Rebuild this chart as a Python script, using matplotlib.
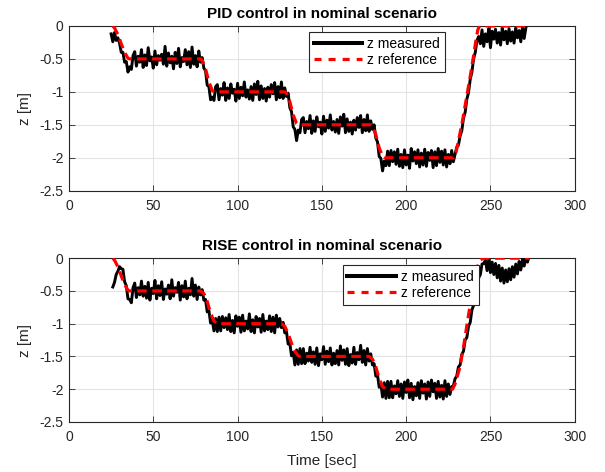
import numpy as np
import matplotlib
matplotlib.use("Agg")
import matplotlib.pyplot as plt
from matplotlib.lines import Line2D

plt.rcParams['font.family'] = ['Liberation Sans', 'DejaVu Sans']

# ---------------- data: PID ----------------
pid_t0 = 25  # first sample time [s], 1 s sampling
pid_meas = [
    -0.12, -0.24, -0.10, -0.22, -0.18,
    -0.26, -0.40, -0.40, -0.55, -0.54, -0.70, -0.62, -0.66, -0.45,
    -0.39, -0.61, -0.46, -0.55, -0.36, -0.63, -0.44, -0.60, -0.33, -0.53,
    -0.47, -0.64, -0.38, -0.59, -0.45, -0.52, -0.43, -0.58, -0.31, -0.61,
    -0.41, -0.56, -0.46, -0.65, -0.40, -0.57, -0.34, -0.62, -0.48, -0.54,
    -0.36, -0.59, -0.39, -0.63, -0.32, -0.58, -0.45, -0.62, -0.38, -0.55,
    -0.48, -0.64, -0.68, -0.90, -0.92, -1.12, -1.08, -1.13, -0.92,
    -0.89, -1.12, -0.95, -1.05, -0.86, -1.13, -0.94, -1.10, -0.88, -1.02,
    -0.96, -1.14, -0.87, -1.10, -0.93, -1.06, -0.85, -1.08, -0.97, -1.11,
    -0.92, -1.13, -0.88, -1.04, -0.84, -1.12, -0.91, -1.10, -0.95, -1.14,
    -0.93, -1.08, -0.89, -1.03, -0.86, -1.12, -0.92, -1.09, -0.85, -1.10,
    -0.94, -1.07,
    -1.02, -1.24, -1.30, -1.53, -1.57, -1.74, -1.58, -1.62, -1.42,
    -1.39, -1.62, -1.45, -1.56, -1.36, -1.63, -1.44, -1.60, -1.38, -1.53,
    -1.46, -1.64, -1.37, -1.60, -1.43, -1.55, -1.35, -1.58, -1.45, -1.61,
    -1.42, -1.63, -1.38, -1.52, -1.34, -1.62, -1.41, -1.60, -1.46, -1.64,
    -1.43, -1.58, -1.39, -1.54, -1.36, -1.62, -1.42, -1.59, -1.35, -1.60,
    -1.44, -1.57,
    -1.50, -1.70, -1.76, -1.98, -2.01, -2.20, -2.05, -2.12, -1.90,
    -2.12, -1.89, -2.06, -1.91, -2.10, -1.87, -2.13, -1.95, -2.15, -1.88,
    -2.11, -1.96, -2.16, -1.86, -2.05, -1.91, -2.09, -1.88, -2.14, -1.93,
    -2.11, -1.87, -2.13, -1.92, -2.04, -1.89, -2.15, -1.91, -2.12, -1.86,
    -2.07, -1.90, -2.11, -1.88, -2.14, -1.95, -2.09, -1.89, -2.06,
    -1.95, -1.84, -1.81, -1.67, -1.59, -1.40, -1.31, -1.11, -1.01, -0.81,
    -0.70, -0.50, -0.40, -0.22, -0.16,
    -0.27, -0.06, -0.31, -0.12, -0.24, -0.04, -0.33, -0.08, -0.20, -0.05,
    -0.26, -0.10, -0.29, -0.03, -0.21, -0.08, -0.27, -0.04, -0.23, -0.09,
    -0.26, -0.03, -0.18, -0.07, -0.24, -0.02, -0.19, -0.03,
]
pid_ref_t = [26, 27, 29, 31, 33, 35, 36, 78, 79, 81, 83, 85, 86,
             128, 129, 131, 133, 135, 136, 179, 180, 182, 184, 186, 187,
             228, 229.5, 231, 233.4, 236, 238.3, 240, 241.5, 242.5, 243.5, 271]
pid_ref_z = [0.0, -0.03, -0.13, -0.27, -0.40, -0.49, -0.5, -0.5, -0.52, -0.65, -0.85, -0.98, -1.0,
             -1.0, -1.02, -1.15, -1.35, -1.48, -1.5, -1.5, -1.52, -1.65, -1.85, -1.98, -2.0,
             -2.0, -1.92, -1.75, -1.44, -1.06, -0.72, -0.45, -0.20, -0.06, 0.0, 0.0]

# ---------------- data: RISE ----------------
rise_t0 = 26
rise_meas = [
    -0.44, -0.37, -0.25, -0.20, -0.13, -0.16, -0.17, -0.36, -0.42, -0.62, -0.63, -0.68, -0.45,
    -0.38, -0.60, -0.45, -0.56, -0.35, -0.58, -0.43, -0.61, -0.37, -0.64,
    -0.46, -0.54, -0.34, -0.62, -0.42, -0.57, -0.36, -0.63, -0.47, -0.55,
    -0.41, -0.62, -0.33, -0.58, -0.45, -0.52, -0.37, -0.64, -0.42, -0.59,
    -0.35, -0.62, -0.46, -0.56, -0.31, -0.58, -0.41, -0.63, -0.44, -0.56,
    -0.48, -0.64, -0.63, -0.82, -0.80, -0.99, -0.95, -1.11, -0.92, -1.12, -0.90,
    -1.11, -0.89, -1.06, -0.91, -1.09, -0.86, -1.12, -0.95, -1.14, -0.88,
    -1.04, -0.90, -1.13, -0.87, -1.11, -0.96, -1.08, -0.85, -1.12, -0.94,
    -1.14, -0.89, -1.05, -0.92, -1.13, -0.86, -1.11, -0.96, -1.09, -0.88,
    -1.12, -0.90, -1.14, -0.87, -1.05, -0.92, -1.06,
    -0.98, -1.14, -1.12, -1.31, -1.30, -1.49, -1.44, -1.63, -1.40, -1.62, -1.38, -1.61,
    -1.38, -1.61, -1.45, -1.57, -1.36, -1.59, -1.43, -1.62, -1.37, -1.64,
    -1.46, -1.55, -1.35, -1.62, -1.42, -1.58, -1.37, -1.63, -1.45, -1.61,
    -1.41, -1.63, -1.34, -1.56, -1.40, -1.62, -1.38, -1.64, -1.47, -1.60,
    -1.36, -1.62, -1.44, -1.55, -1.33, -1.59, -1.41, -1.63, -1.38, -1.57,
    -1.46, -1.63, -1.61, -1.80, -1.78, -1.97, -1.92, -2.12, -1.90, -2.14, -1.88, -2.13,
    -1.88, -2.13, -1.95, -2.07, -1.87, -2.11, -1.92, -2.14, -1.89, -2.05,
    -1.86, -2.13, -1.91, -2.16, -1.96, -2.10, -1.90, -2.14, -1.87, -2.06,
    -1.92, -2.15, -1.89, -2.11, -1.86, -2.04, -1.91, -2.14, -1.88, -2.12,
    -1.94, -2.15, -1.87, -2.11, -1.92, -2.08, -1.96,
    -1.95, -1.84, -1.80, -1.66, -1.63, -1.47, -1.42, -1.25, -1.21, -1.04,
    -0.98, -0.79, -0.72, -0.53, -0.47, -0.30, -0.25, -0.09, -0.08,
    -0.03, -0.19, -0.02, -0.22, -0.06, -0.25, -0.08, -0.30, -0.11, -0.35,
    -0.15, -0.38, -0.18, -0.36, -0.16, -0.33, -0.13, -0.29, -0.09, -0.24,
    -0.05, -0.18, -0.02, -0.12, 0.00, -0.06, 0.05,
]
rise_ref_t = [26, 27, 29, 31, 33, 35, 36, 78, 80, 82, 84, 86, 88, 89,
              126, 128, 130, 132, 134, 136, 137, 178, 180, 182, 184, 186, 188, 189,
              227.5, 229, 231.5, 233.7, 236.5, 239.7, 242, 244, 245.5, 273]
rise_ref_z = [0.0, -0.03, -0.13, -0.27, -0.40, -0.49, -0.5, -0.5, -0.54, -0.66, -0.84, -0.96, -1.0, -1.0,
              -1.0, -1.04, -1.15, -1.30, -1.42, -1.49, -1.5, -1.5, -1.54, -1.66, -1.84, -1.96, -2.0, -2.0,
              -2.0, -1.92, -1.70, -1.41, -0.95, -0.44, -0.15, -0.03, 0.0, 0.0]

titles = ["PID control in nominal scenario", "RISE control in nominal scenario"]
xticks = [0, 50, 100, 150, 200, 250, 300]
yticks = [-2.5, -2, -1.5, -1, -0.5, 0]
ytick_labels = ["-2.5", "-2", "-1.5", "-1", "-0.5", "0"]
legend_labels = ["z measured", "z reference"]

# ---------------- figure ----------------
fig = plt.figure(figsize=(6.05, 4.72), dpi=100)
ax1 = fig.add_axes([0.114, 0.596, 0.836, 0.349])
ax2 = fig.add_axes([0.114, 0.106, 0.836, 0.347])

axcol = '#262626'
ref_dash = (3.0, 1.7)
series = [
    (ax1, pid_t0, pid_meas, pid_ref_t, pid_ref_z, (0.474, 0.961)),
    (ax2, rise_t0, rise_meas, rise_ref_t, rise_ref_z, (0.541, 0.956)),
]
for i, (ax, t0, meas, rt, rz, legpos) in enumerate(series):
    t = t0 + np.arange(len(meas))
    ax.plot(t, meas, color='black', lw=2.1, zorder=3)
    ax.plot(rt, rz, color='red', lw=2.3, dashes=ref_dash, zorder=4)
    ax.set_xlim(0, 300)
    ax.set_ylim(-2.5, 0)
    ax.set_xticks(xticks)
    ax.set_xticklabels([str(v) for v in xticks])
    ax.set_yticks(yticks)
    ax.set_yticklabels(ytick_labels)
    ax.grid(True, color='#e3e3e3', lw=0.8)
    ax.set_axisbelow(True)
    ax.tick_params(direction='in', top=True, right=True, length=4, width=0.6,
                   colors=axcol, labelsize=10)
    ax.tick_params(axis='x', pad=6)
    ax.tick_params(axis='y', pad=4)
    for s in ax.spines.values():
        s.set_color(axcol)
        s.set_linewidth(0.8)
    ax.set_title(titles[i], fontsize=11, fontweight='bold', color='black', pad=6)
    ax.set_ylabel("z [m]", fontsize=11, color=axcol, labelpad=5)
    handles = [Line2D([], [], color='black', lw=2.9),
               Line2D([], [], color='red', lw=2.3, dashes=(2.2, 2.2))]
    leg = ax.legend(handles, legend_labels, loc='upper left', bbox_to_anchor=legpos,
                    fontsize=10, frameon=True, fancybox=False, framealpha=1,
                    edgecolor=axcol, handlelength=3.5, handletextpad=0.35,
                    borderpad=0.35, labelspacing=0.15, borderaxespad=0)
    leg.get_frame().set_linewidth(0.8)

ax2.set_xlabel("Time [sec]", fontsize=11, color=axcol, labelpad=7)

fig.savefig("out.png", dpi=100)
